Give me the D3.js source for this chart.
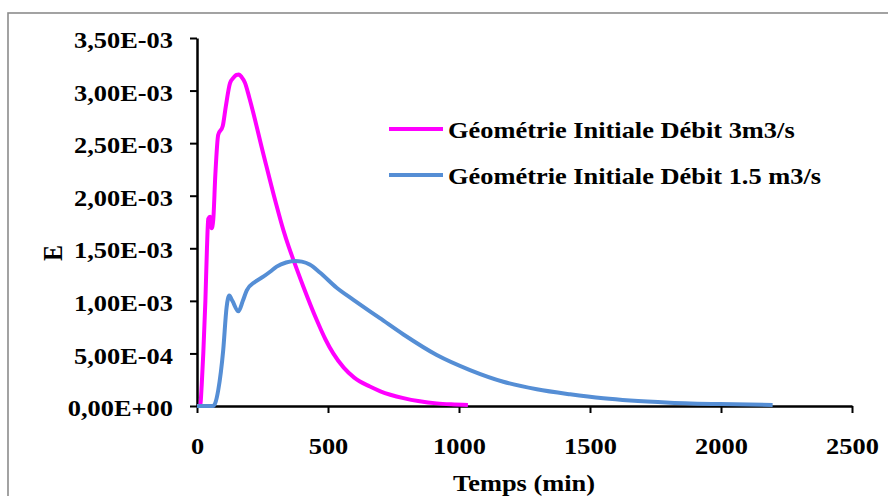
<!DOCTYPE html>
<html lang="fr">
  <head>
    <meta charset="utf-8" />
    <title>Courbe E(t)</title>
    <script src="https://d3js.org/d3.v7.min.js"></script>
    <style>
      body { margin: 0; background: #fff; }
      text { font-family: "Liberation Serif", "Times New Roman", serif; font-weight: bold; fill: #000; }
    </style>
  </head>
  <body>
    <div id="chart"></div>
    <script>
      // data: time (min) and E (x 1e-3)
      const debit3T = [0, 12, 18, 24, 32, 38, 43, 50, 56, 62, 70, 81, 98, 110, 126, 140, 150, 160, 170, 183, 200, 253, 300, 330, 350, 368, 406, 457, 490, 520, 560, 600, 660, 700, 788, 850, 915, 970, 1034];
      const debit3E = [0, 0, 0.2, 0.5, 1.0, 1.5, 1.78, 1.80, 1.69, 1.77, 2.2, 2.58, 2.66, 2.85, 3.07, 3.125, 3.148, 3.152, 3.13, 3.075, 2.93, 2.40, 1.94, 1.67, 1.515, 1.39, 1.135, 0.818, 0.635, 0.50, 0.365, 0.27, 0.185, 0.14, 0.075, 0.045, 0.025, 0.016, 0.01];

      const debit15T = [0, 61, 70, 81, 100, 113, 123, 135, 158, 175, 190, 221, 253, 279, 304, 340, 374, 400, 430, 469, 533, 597, 660, 698, 788, 915, 1042, 1169, 1297, 1424, 1551, 1653, 1805, 1996, 2197];
      const debit15E = [0, 0, 0.03, 0.15, 0.53, 0.94, 1.05, 1.0, 0.90, 1.0, 1.10, 1.18, 1.23, 1.277, 1.325, 1.365, 1.38, 1.373, 1.345, 1.27, 1.125, 1.01, 0.90, 0.835, 0.68, 0.485, 0.342, 0.231, 0.159, 0.111, 0.073, 0.052, 0.032, 0.018, 0.01];

      const seriesNames = ["Géométrie Initiale Débit 3m3/s", "Géométrie Initiale Débit 1.5 m3/s"];
      const seriesColors = ["#ff00ff", "#558ed5"];
      const xTicks = [0, 500, 1000, 1500, 2000, 2500];
      const yTicks = [0, 0.5e-3, 1e-3, 1.5e-3, 2e-3, 2.5e-3, 3e-3, 3.5e-3];
      const yTickLabels = ["0,00E+00", "5,00E-04", "1,00E-03", "1,50E-03", "2,00E-03", "2,50E-03", "3,00E-03", "3,50E-03"];

      const W = 888, H = 496;
      const svg = d3.select("#chart").append("svg")
        .attr("width", W).attr("height", H);

      // outer chart frame (runs off the picture on right and bottom)
      svg.append("rect")
        .attr("x", 8).attr("y", 13)
        .attr("width", 900).attr("height", 500)
        .attr("fill", "none").attr("stroke", "#8c8c8c").attr("stroke-width", 1.6);

      const x = d3.scaleLinear().domain([0, 2500]).range([197, 852]);
      const y = d3.scaleLinear().domain([0, 3.5e-3]).range([406, 38]);

      const stretch = "scale(1.1,1)";

      // x axis
      const gx = svg.append("g")
        .attr("transform", `translate(0,${y(0)})`)
        .call(d3.axisBottom(x).tickValues(xTicks).tickSize(7).tickSizeOuter(0).tickFormat(d3.format("d")));
      gx.select(".domain").attr("stroke", "#000").attr("stroke-width", 2.5);
      gx.selectAll(".tick line").attr("stroke", "#000").attr("stroke-width", 2);
      gx.selectAll(".tick text")
        .attr("y", null).attr("dy", null)
        .attr("transform", `translate(0,48) ${stretch}`)
        .attr("font-size", 24)
        .attr("font-family", null);

      // y axis
      const gy = svg.append("g")
        .attr("transform", `translate(${x(0)},0)`)
        .call(d3.axisLeft(y).tickValues(yTicks).tickSize(7).tickSizeOuter(0)
          .tickFormat((d, i) => yTickLabels[i]));
      gy.select(".domain").attr("stroke", "#000").attr("stroke-width", 2.5);
      gy.selectAll(".tick line").attr("stroke", "#000").attr("stroke-width", 2);
      gy.selectAll(".tick text")
        .attr("x", null).attr("dy", "0.4em")
        .attr("transform", `translate(-24,0) ${stretch}`)
        .attr("font-size", 24)
        .attr("font-family", null);

      // axis titles
      svg.append("text")
        .attr("transform", `translate(524,491) ${stretch}`)
        .attr("text-anchor", "middle")
        .attr("font-size", 24)
        .text("Temps (min)");
      svg.append("text")
        .attr("transform", `translate(62,253) ${stretch} rotate(-90)`)
        .attr("text-anchor", "middle")
        .attr("font-size", 24)
        .text("E");

      // lines
      const line = d3.line()
        .x(d => x(d[0]))
        .y(d => y(d[1] * 1e-3))
        .curve(d3.curveMonotoneX);

      const series = [
        d3.zip(debit3T, debit3E),
        d3.zip(debit15T, debit15E)
      ];

      svg.selectAll("path.serie")
        .data(series)
        .join("path")
          .attr("class", "serie")
          .attr("d", line)
          .attr("fill", "none")
          .attr("stroke", (d, i) => seriesColors[i])
          .attr("stroke-width", 4)
          .attr("stroke-linejoin", "round");

      // legend
      const legend = svg.append("g");
      const legY = [129, 175];
      legend.selectAll("line")
        .data(seriesNames)
        .join("line")
          .attr("x1", 389).attr("x2", 443)
          .attr("y1", (d, i) => legY[i]).attr("y2", (d, i) => legY[i])
          .attr("stroke", (d, i) => seriesColors[i])
          .attr("stroke-width", 4);
      legend.selectAll("text")
        .data(seriesNames)
        .join("text")
          .attr("transform", (d, i) => `translate(448,${legY[i] + 9}) ${stretch}`)
          .attr("font-size", 24)
          .text(d => d);
    </script>
  </body>
</html>
